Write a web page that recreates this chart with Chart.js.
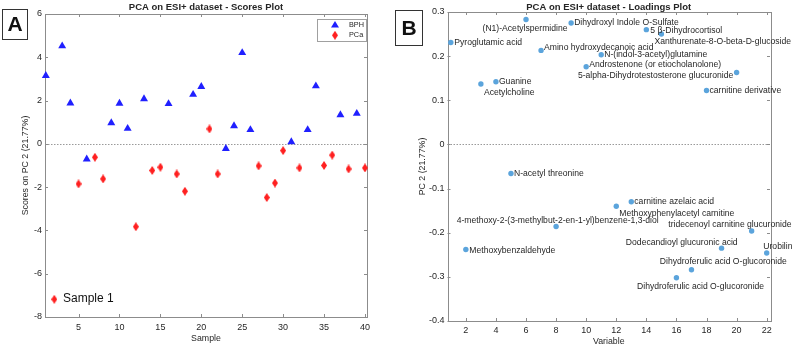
<!DOCTYPE html>
<html>
<head>
<meta charset="utf-8">
<script src="https://cdn.jsdelivr.net/npm/chart.js@4.4.1/dist/chart.umd.min.js"></script>
<style>
  html, body { margin: 0; padding: 0; background: #fff; }
  #left { position: absolute; left: 0; top: 0; }
  #right { position: absolute; left: 390px; top: 0; }
</style>
</head>
<body>
<canvas id="left" width="390" height="346"></canvas>
<canvas id="right" width="403" height="346"></canvas>
<script>
// scores plot (panel A)
const bphSamples = [1, 3, 4, 6, 9, 10, 11, 13, 16, 19, 20, 23, 24, 25, 26, 31, 33, 34, 37, 39];
const bphScores = [3.15, 4.52, 1.88, -0.71, 0.97, 1.87, 0.71, 2.08, 1.85, 2.28, 2.64, -0.22, 0.83, 4.21, 0.65, 0.09, 0.65, 2.67, 1.34, 1.40];
const pcaSamples = [5, 7, 8, 12, 14, 15, 17, 18, 21, 22, 27, 28, 29, 30, 32, 35, 36, 38, 40];
const pcaScores = [-1.85, -0.62, -1.62, -3.83, -1.23, -1.08, -1.39, -2.19, 0.69, -1.39, -1.02, -2.48, -1.81, -0.31, -1.11, -1.0, -0.52, -1.16, -1.11];
const sampleTicks = [5, 10, 15, 20, 25, 30, 35, 40];
const scoreTicks = [-8, -6, -4, -2, 0, 2, 4, 6];
const sampleNote = 'Sample 1';

// loadings plot (panel B)
const variables = [1, 2, 3, 4, 5, 6, 7, 8, 9, 10, 11, 12, 13, 14, 15, 16, 17, 18, 19, 20, 21, 22];
const variableNames = [
  'Pyroglutamic acid',
  'Methoxybenzaldehyde',
  'Acetylcholine',
  'Guanine',
  'N-acetyl threonine',
  '(N1)-Acetylspermidine',
  'Amino hydroxydecanoic acid',
  '4-methoxy-2-(3-methylbut-2-en-1-yl)benzene-1,3-diol',
  'Dihydroxyl Indole O-Sulfate',
  'Androstenone (or etiocholanolone)',
  'N-(indol-3-acetyl)glutamine',
  'Methoxyphenylacetyl carnitine',
  'carnitine azelaic acid',
  '5 β-Dihydrocortisol',
  'Xanthurenate-8-O-beta-D-glucoside',
  'Dihydroferulic acid O-glucoronide',
  'Dihydroferulic acid O-glucoronide',
  'carnitine derivative',
  'Dodecandioyl glucuronic acid',
  '5-alpha-Dihydrotestosterone glucuronide',
  'tridecenoyl carnitine glucuronide',
  'Urobilin'
];
const pc2Loadings = [0.231, -0.238, 0.137, 0.142, -0.066, 0.283, 0.213, -0.186, 0.275, 0.176, 0.203, -0.140, -0.130, 0.260, 0.250, -0.302, -0.284, 0.122, -0.235, 0.163, -0.196, -0.246];
const variableTicks = [2, 4, 6, 8, 10, 12, 14, 16, 18, 20, 22];
const loadingTicks = [-0.4, -0.3, -0.2, -0.1, 0, 0.1, 0.2, 0.3];

// where each variable's text sits relative to its dot: [dx, dy, align]
const labelPlacement = [
  [3.5, 0, 'left'], [3.5, 1, 'left'], [3, 9, 'left'], [3, 0, 'left'], [3, 0.5, 'left'],
  [-1, 9, 'center'], [3, -3, 'left'], [1.6, -6, 'center'], [3, 0, 'left'], [3, -2, 'left'],
  [3, 0, 'left'], [3, 7.5, 'left'], [3, 0, 'left'], [4, 0.5, 'left'], [-7, 8, 'left'],
  [-39.4, 8.7, 'left'], [-31.7, -8.6, 'left'], [3, 0.5, 'left'], [-95.7, -6, 'left'],
  [-3.4, 3, 'right'], [-83.4, -6.7, 'left'], [-3.4, -6.7, 'left']
];

const FONT = "'Liberation Sans', Arial, sans-serif";
const INK = '#262626';
const BLUE = '#2020ff';
const RED = '#ff2020';
const DOT = '#5ba4dc';

function diamond(w, h, color) {
  const c = document.createElement('canvas');
  c.width = w;
  c.height = h;
  const g = c.getContext('2d');
  g.fillStyle = color;
  g.beginPath();
  g.moveTo(w / 2, 0);
  g.lineTo(w, h / 2);
  g.lineTo(w / 2, h);
  g.lineTo(0, h / 2);
  g.closePath();
  g.fill();
  return c;
}
const redDiamond = diamond(6, 9, RED);

const pts = (xs, ys) => xs.map((x, i) => ({ x: x, y: ys[i] }));

// matlab-like box: inward ticks, dotted zero line, titles, panel letter
const frame = {
  id: 'frame',
  beforeDatasetsDraw(chart, args, o) {
    const { ctx, chartArea: a, scales: { x, y } } = chart;
    ctx.save();
    const y0 = Math.round(y.getPixelForValue(0)) + 0.5;
    ctx.strokeStyle = '#9a9a9a';
    ctx.lineWidth = 1;
    ctx.setLineDash([1.5, 1.5]);
    ctx.beginPath();
    ctx.moveTo(a.left, y0);
    ctx.lineTo(a.right, y0);
    ctx.stroke();
    ctx.setLineDash([]);
    ctx.strokeStyle = '#8c8c8c';
    ctx.beginPath();
    x.ticks.forEach(t => {
      const p = Math.round(x.getPixelForValue(t.value)) + 0.5;
      ctx.moveTo(p, a.bottom); ctx.lineTo(p, a.bottom - 3);
      ctx.moveTo(p, a.top); ctx.lineTo(p, a.top + 3);
    });
    y.ticks.forEach(t => {
      const p = Math.round(y.getPixelForValue(t.value)) + 0.5;
      ctx.moveTo(a.left, p); ctx.lineTo(a.left + 3, p);
      ctx.moveTo(a.right, p); ctx.lineTo(a.right - 3, p);
    });
    ctx.stroke();
    ctx.strokeRect(Math.round(a.left) + 0.5, Math.round(a.top) + 0.5,
      Math.round(a.right - a.left), Math.round(a.bottom - a.top));
    ctx.restore();
  },
  afterDraw(chart, args, o) {
    const { ctx, chartArea: a } = chart;
    const cx = (a.left + a.right) / 2;
    const cy = (a.top + a.bottom) / 2;
    ctx.save();
    ctx.fillStyle = INK;
    ctx.textBaseline = 'middle';
    ctx.textAlign = 'center';
    ctx.font = `bold 9.5px ${FONT}`;
    ctx.fillText(o.title, cx, 7.5);
    ctx.font = `8.8px ${FONT}`;
    ctx.fillText(o.xTitle, cx, o.xTitleY);
    ctx.save();
    ctx.translate(o.yTitleX, cy);
    ctx.rotate(-Math.PI / 2);
    ctx.fillText(o.yTitle, 0, 0);
    ctx.restore();

    // panel letter
    const [bx, by, bw, bh] = o.panelBox;
    ctx.strokeStyle = '#333';
    ctx.lineWidth = 1;
    ctx.strokeRect(bx + 0.5, by + 0.5, bw, bh);
    ctx.fillStyle = '#111';
    ctx.font = `bold 21px ${FONT}`;
    ctx.fillText(o.panel, bx + bw / 2 + 0.5, by + bh / 2 + 1.5);

    if (o.legend) {
      const ds = chart.data.datasets;
      ctx.fillStyle = '#fff';
      ctx.fillRect(317.5, 19.5, 49, 22);
      ctx.strokeStyle = '#a0a0a0';
      ctx.strokeRect(317.5, 19.5, 49, 22);
      ctx.font = `7.3px ${FONT}`;
      ctx.textAlign = 'left';
      ds.forEach((d, i) => {
        const ly = 25 + i * 10.3;
        if (d.pointStyle === 'triangle') {
          ctx.fillStyle = d.backgroundColor;
          ctx.beginPath();
          ctx.moveTo(335, ly - 4);
          ctx.lineTo(339, ly + 2.5);
          ctx.lineTo(331, ly + 2.5);
          ctx.closePath();
          ctx.fill();
        } else {
          ctx.drawImage(d.pointStyle, 332, ly - 4.5);
        }
        ctx.fillStyle = INK;
        ctx.fillText(d.label, 349, ly);
      });
      ctx.drawImage(redDiamond, 51.3, 294.8);
      ctx.font = `12px ${FONT}`;
      ctx.fillStyle = '#111';
      ctx.fillText(sampleNote, 63, 298.5);
    }
    ctx.restore();
  }
};

const pointLabels = {
  id: 'pointLabels',
  afterDatasetsDraw(chart) {
    const ctx = chart.ctx;
    const meta = chart.getDatasetMeta(0);
    ctx.save();
    ctx.font = `8.6px ${FONT}`;
    ctx.fillStyle = INK;
    ctx.textBaseline = 'middle';
    meta.data.forEach((el, i) => {
      const [dx, dy, al] = labelPlacement[i];
      ctx.textAlign = al;
      ctx.fillText(variableNames[i], el.x + dx, el.y + dy);
    });
    ctx.restore();
  }
};

function axis(min, max, tickValues, padding, fit) {
  return {
    type: 'linear',
    min: min,
    max: max,
    afterBuildTicks: s => { s.ticks = tickValues.map(v => ({ value: v })); },
    afterFit: fit,
    grid: { display: false, drawTicks: false },
    border: { display: false },
    ticks: {
      padding: padding,
      color: INK,
      autoSkip: false,
      maxRotation: 0,
      font: { family: FONT, size: 9 },
      callback: v => String(v)
    }
  };
}

new Chart(document.getElementById('left'), {
  type: 'scatter',
  data: {
    datasets: [
      {
        label: 'BPH',
        data: pts(bphSamples, bphScores),
        pointStyle: 'triangle',
        pointRadius: 4.6,
        backgroundColor: BLUE,
        borderColor: BLUE,
        borderWidth: 0,
        clip: false
      },
      {
        label: 'PCa',
        data: pts(pcaSamples, pcaScores),
        pointStyle: redDiamond,
        backgroundColor: RED,
        borderColor: RED,
        borderWidth: 0,
        clip: false
      }
    ]
  },
  options: {
    responsive: false,
    animation: false,
    events: [],
    layout: { padding: { left: 0, top: 14, right: 23, bottom: 0 } },
    plugins: {
      legend: { display: false },
      tooltip: { enabled: false },
      frame: {
        title: 'PCA on ESI+ dataset - Scores Plot',
        xTitle: 'Sample',
        xTitleY: 339,
        yTitle: 'Scores on PC 2 (21.77%)',
        yTitleX: 25.5,
        panel: 'A',
        panelBox: [2, 9, 25, 30],
        legend: true
      }
    },
    scales: {
      x: axis(0.9, 40.25, sampleTicks, 5, s => { s.height = 29; }),
      y: axis(-8, 6, scoreTicks, 3, s => { s.width = 45; })
    }
  },
  plugins: [frame]
});

new Chart(document.getElementById('right'), {
  type: 'scatter',
  data: {
    datasets: [
      {
        label: 'PC 2 loadings',
        data: pts(variables, pc2Loadings),
        pointStyle: 'circle',
        pointRadius: 2.7,
        backgroundColor: DOT,
        borderWidth: 0,
        clip: false
      }
    ]
  },
  options: {
    responsive: false,
    animation: false,
    events: [],
    layout: { padding: { left: 0, top: 12, right: 23, bottom: 0 } },
    plugins: {
      legend: { display: false },
      tooltip: { enabled: false },
      frame: {
        title: 'PCA on ESI+ dataset - Loadings Plot',
        xTitle: 'Variable',
        xTitleY: 341.5,
        yTitle: 'PC 2 (21.77%)',
        yTitleX: 32.5,
        panel: 'B',
        panelBox: [5, 10, 27, 35],
        legend: false
      }
    },
    scales: {
      x: axis(0.78, 22.22, variableTicks, 4, s => { s.height = 25; }),
      y: axis(-0.4, 0.3, loadingTicks, 3, s => { s.width = 57.5; })
    }
  },
  plugins: [frame, pointLabels]
});
</script>
</body>
</html>
